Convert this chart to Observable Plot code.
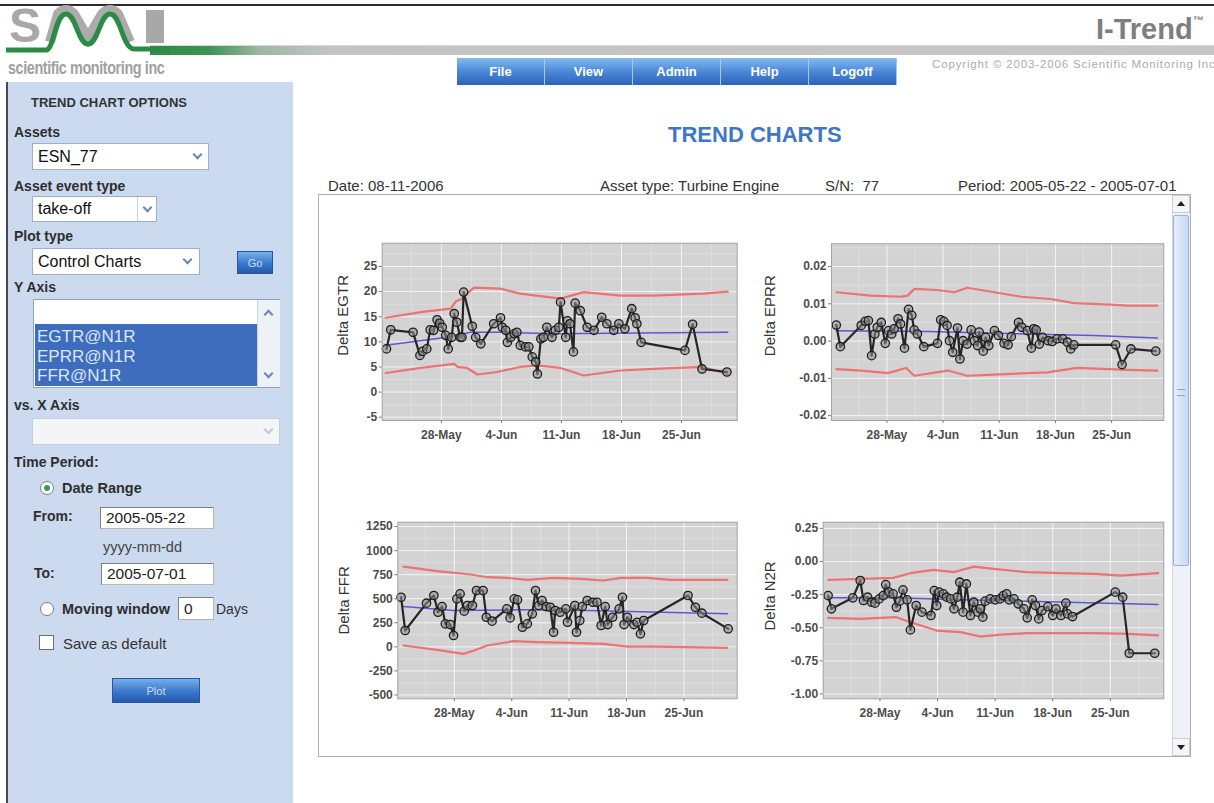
<!DOCTYPE html>
<html>
<head>
<meta charset="utf-8">
<script src="https://cdn.jsdelivr.net/npm/d3@7"></script>
<script src="https://cdn.jsdelivr.net/npm/@observablehq/plot@0.6"></script>
<style>
html,body{margin:0;padding:0}
body{width:1214px;height:803px;overflow:hidden;background:#fff;position:relative;font-family:"Liberation Sans",Arial,sans-serif;color:#333}
.a{position:absolute;white-space:nowrap;line-height:1}
.lbl{font-weight:bold;font-size:14px;color:#2e2e2e}
.box{position:absolute;background:#fff;border:1px solid #9cb0cc;box-sizing:border-box}
.box span{position:absolute;left:5px;top:50%;transform:translateY(-50%);font-size:16px;color:#111;white-space:nowrap}
.chev{position:absolute;width:5px;height:5px;border-right:2px solid #6a86b2;border-bottom:2px solid #6a86b2;transform:rotate(45deg)}
.chevu{position:absolute;width:5px;height:5px;border-left:2px solid #6a86b2;border-top:2px solid #6a86b2;transform:rotate(45deg)}
.inp{position:absolute;background:#fff;border:1px solid #b4b4b4;border-top-color:#808080;border-left-color:#808080;box-sizing:border-box;font-size:15.5px;color:#222;padding-left:5px;display:flex;align-items:center}
.btn{position:absolute;background:linear-gradient(#74aeea,#3b78cc 55%,#2659ad);color:#c9dcf6;font-size:11px;display:flex;align-items:center;justify-content:center;box-sizing:border-box;border:1px solid #2a56a0}
.menu{position:absolute;left:457px;top:58px;width:441px;height:27px;display:flex}
.menu div{width:88px;height:27px;display:flex;align-items:center;justify-content:center;color:#fff;font-weight:bold;font-size:13px;border-right:1px solid #a8c8ee;box-sizing:border-box;background:linear-gradient(#86bbf0,#4a88d8 50%,#2c64b8)}
.radio{position:absolute;width:14px;height:14px;border-radius:50%;border:1px solid #7a7a7a;background:#fff;box-sizing:border-box}
</style>
</head>
<body>
<script>
// ---------------- DATA ----------------
// days are counted as day-of-May (32 = 1 June, 61 = 30 June)
const xTickDays = [28, 35, 42, 49, 56];
const xDomainDays = [21.1, 62.5];

// Delta EGTR
const egtrDays = [21.6,22.1,24.7,25.5,25.8,26.3,26.7,27.1,27.5,27.8,28.1,28.5,28.8,29.2,29.5,29.8,30.2,30.4,30.6,31.6,32.0,32.6,34.1,34.9,35.1,35.5,35.7,36.1,36.5,36.8,37.2,37.8,38.2,38.6,39.0,39.2,39.6,39.9,40.3,40.9,41.3,41.7,41.9,42.5,42.7,43.0,43.4,43.6,44.2,45.0,45.8,46.7,47.3,48.1,48.7,49.4,50.2,50.6,50.8,51.3,56.4,57.3,58.4,61.3];
const egtrVals = [8.6,12.4,11.9,7.3,8.1,8.6,12.4,12.3,14.4,13.7,12.9,11.3,8.6,10.9,15.6,13.9,10.9,10.9,19.9,13.1,10.9,9.6,13.6,14.8,12.9,12.3,9.9,10.9,11.6,11.9,9.3,9.0,9.0,7.0,6.0,3.6,10.6,10.9,12.9,10.9,12.3,12.9,17.9,10.9,14.2,13.6,8.0,17.7,16.2,12.9,12.3,14.9,13.6,12.3,13.6,12.6,16.6,14.8,13.6,9.9,8.3,13.5,4.6,4.0];
const egtrUclDays = [21.5,25.6,29.1,29.7,30.4,31.0,31.8,34.9,37.2,41.9,44.6,48.9,52.7,58.5,61.4];
const egtrUcl = [14.8,15.9,16.6,18.1,18.6,19.6,20.8,20.6,19.6,18.6,19.9,19.2,19.2,19.6,20.0];
const egtrLclDays = [21.5,25.6,29.5,29.9,31.0,32.2,34.5,37.2,39.2,41.9,44.6,48.9,52.7,58.5,61.4];
const egtrLcl = [3.8,4.8,5.6,5.0,4.8,3.5,4.0,5.0,5.3,4.8,3.3,4.3,4.6,5.0,3.6];
const egtrClDays = [21.5,28.7,31.4,35.3,41.1,61.4];
const egtrCl = [9.3,10.9,11.9,11.9,11.6,11.9];
const egtrTicks = [-5,0,5,10,15,20,25];

// Delta EPRR
const eprrDays = [21.7,22.2,24.8,25.3,25.7,26.1,26.5,26.8,27.3,27.8,28.2,28.6,28.9,29.4,29.7,30.2,30.7,31.1,31.4,31.8,32.6,34.3,34.7,35.1,35.5,35.8,36.2,36.8,37.1,37.5,38.0,38.5,38.9,39.3,39.5,40.0,40.3,40.7,41.4,41.9,42.6,43.1,43.5,44.4,44.8,45.5,46.0,46.3,46.6,47.0,47.4,48.1,48.6,49.2,49.9,50.5,50.9,51.3,56.5,57.3,58.4,61.5];
const eprrVals = [0.0043,-0.0015,0.0042,0.0053,0.0055,-0.0039,0.0019,0.0037,0.0050,-0.0006,0.0028,0.0019,0.0033,0.0060,0.0046,-0.0019,0.0085,0.0069,0.0030,0.0019,-0.0015,-0.0006,0.0057,0.0053,0.0042,0.0001,-0.0030,0.0035,-0.0048,0.0001,-0.0008,0.0030,0.0001,-0.0012,0.0024,-0.0027,0.0010,-0.0012,0.0028,0.0015,-0.0006,-0.0010,0.0012,0.0050,0.0037,0.0028,-0.0019,0.0033,0.0030,-0.0008,0.0010,0.0001,-0.0001,0.0006,0.0006,-0.0003,-0.0021,-0.0010,-0.0010,-0.0063,-0.0021,-0.0027];
const eprrUclDays = [21.7,26.0,29.7,30.6,31.4,34.3,36.4,38.0,41.4,44.7,48.4,51.3,55.9,58.0,61.7];
const eprrUcl = [0.0131,0.0122,0.0119,0.0122,0.0140,0.0137,0.0131,0.0143,0.0131,0.0119,0.0113,0.0102,0.0098,0.0095,0.0095];
const eprrLclDays = [21.7,24.8,28.1,30.4,31.4,35.6,38.0,41.4,45.5,48.0,51.7,58.0,61.7];
const eprrLcl = [-0.0075,-0.0079,-0.0086,-0.0072,-0.0093,-0.0079,-0.0093,-0.0090,-0.0086,-0.0084,-0.0072,-0.0077,-0.0079];
const eprrClDays = [21.7,33.1,45.5,53.8,61.7];
const eprrCl = [0.0028,0.0026,0.0019,0.0015,0.0008];
const eprrTicks = [-0.02,-0.01,0,0.01,0.02];

// Delta FFR
const ffrDays = [21.5,22.0,24.6,25.5,26.0,26.5,26.9,27.5,27.9,28.3,28.7,29.2,29.6,30.2,30.7,31.5,31.9,32.6,34.4,34.8,35.3,35.7,36.3,36.9,37.5,37.9,38.3,38.7,39.2,39.7,40.1,40.3,40.9,41.6,41.8,42.7,42.9,43.3,43.6,44.2,44.9,45.4,45.9,46.4,46.7,47.3,48.1,48.5,48.7,49.1,49.9,50.3,50.7,51.1,56.5,57.4,58.2,61.4];
const ffrVals = [516,170,454,534,360,419,239,232,118,499,551,371,430,430,586,586,308,267,395,301,499,489,204,239,343,586,430,482,419,412,152,378,360,395,256,430,152,274,419,482,464,464,222,419,232,308,395,516,232,308,232,256,135,274,534,412,350,187];
const ffrUclDays = [21.8,25.9,30.0,32.0,34.4,36.9,40.1,43.4,46.2,48.3,51.5,54.4,61.3];
const ffrUcl = [835,787,752,724,717,696,717,707,690,717,717,696,696];
const ffrLclDays = [21.8,25.9,29.1,30.4,32.0,35.2,38.1,42.2,46.2,49.1,52.3,56.4,61.3];
const ffrLcl = [14,-31,-73,-38,14,59,49,42,31,3,3,-3,-10];
const ffrClDays = [21.8,27.9,36.1,44.2,61.3];
const ffrCl = [419,378,385,378,343];
const ffrTicks = [-500,-250,0,250,500,750,1000,1250];

// Delta N2R
const n2rDays = [21.7,22.1,24.7,25.6,26.0,26.5,27.0,27.4,27.9,28.4,28.7,29.1,29.6,30.0,30.4,30.8,31.3,31.7,32.4,33.1,34.2,34.6,34.9,35.2,35.7,36.1,36.6,37.0,37.4,37.7,38.1,38.5,39.0,39.4,39.9,40.2,40.5,40.8,41.4,42.0,42.6,43.0,43.4,43.7,44.3,44.8,45.5,45.9,46.5,46.9,47.3,47.7,48.4,49.0,49.4,50.0,50.6,50.8,51.4,56.6,57.5,58.3,61.4];
const n2rVals = [-0.257,-0.357,-0.274,-0.143,-0.294,-0.269,-0.307,-0.314,-0.282,-0.257,-0.174,-0.231,-0.244,-0.345,-0.299,-0.214,-0.289,-0.516,-0.332,-0.382,-0.407,-0.219,-0.332,-0.231,-0.244,-0.269,-0.282,-0.357,-0.269,-0.156,-0.382,-0.169,-0.407,-0.307,-0.382,-0.357,-0.420,-0.299,-0.282,-0.289,-0.282,-0.257,-0.244,-0.289,-0.282,-0.319,-0.357,-0.425,-0.289,-0.332,-0.433,-0.370,-0.340,-0.407,-0.357,-0.407,-0.314,-0.395,-0.415,-0.231,-0.269,-0.692,-0.692];
const n2rUclDays = [21.7,25.6,29.6,31.7,34.5,37.0,39.4,41.8,45.9,50.0,54.1,57.3,61.8];
const n2rUcl = [-0.138,-0.131,-0.123,-0.088,-0.063,-0.080,-0.038,-0.055,-0.080,-0.088,-0.093,-0.106,-0.088];
const n2rLclDays = [21.7,25.6,30.0,31.7,34.9,37.8,40.2,42.7,45.9,50.0,54.1,58.1,61.8];
const n2rLcl = [-0.425,-0.433,-0.420,-0.458,-0.521,-0.533,-0.566,-0.551,-0.541,-0.541,-0.541,-0.546,-0.558];
const n2rClDays = [21.7,29.6,37.8,45.9,61.8];
const n2rCl = [-0.274,-0.274,-0.289,-0.299,-0.324];
const n2rTicks = [-1,-0.75,-0.5,-0.25,0,0.25];

const listItems = ["EGTR@N1R", "EPRR@N1R", "FFR@N1R"];
const menuItems = ["File", "View", "Admin", "Help", "Logoff"];
</script>

<!-- header -->
<div class="a" style="left:0;top:4px;width:1214px;height:2px;background:#2b2b2b"></div>
<div class="a" style="left:150px;top:45px;width:1064px;height:10px;background:linear-gradient(to right,#2f8b46 0px,#3c9452 60px,#9fb7a4 110px,#c3c3c3 180px,#c6c6c6 100%);border-top:1px solid #d8d8d8;box-sizing:border-box"></div>
<svg class="a" style="left:0;top:0" width="170" height="60">
  <text x="9" y="42" font-size="48" font-weight="bold" fill="#a8a8a8" font-family="Liberation Sans, Arial">S</text>
  <path d="M50 42 L58 14 Q66 6 74 14 L88 38 L102 14 Q110 6 118 14 L130 42" stroke="#ababab" stroke-width="10" fill="none"/>
  <rect x="146" y="10" width="18" height="33" fill="#a8a8a8"/>
  <path d="M6 50 H46 C54 50 55 14 66 14 C76 14 78 44 88 44 C98 44 100 14 110 14 C121 14 122 48 134 49 H170" stroke="#2b8a43" stroke-width="5" fill="none"/>
</svg>
<div class="a" style="left:8px;top:59px;font-size:18px;font-weight:bold;color:#a0a0a0;transform:scaleX(0.8);transform-origin:left;letter-spacing:-0.5px">scientific monitoring inc</div>
<div class="a" style="left:1096px;top:15px;font-size:29px;font-weight:bold;color:#7e7e7e">I-Trend<span style="font-size:11px;vertical-align:top">™</span></div>
<div class="a" style="left:932px;top:59px;font-size:11.5px;color:#ababab;letter-spacing:0.85px">Copyright © 2003-2006 Scientific Monitoring Inc</div>
<div class="menu" id="menu"></div>

<!-- left panel -->
<div class="a" style="left:6px;top:82px;width:287px;height:721px;background:#cbdaef;border-left:2px solid #4a4a4a;box-sizing:border-box"></div>
<div class="a" style="left:31px;top:96px;font-size:13px;font-weight:bold;color:#333">TREND CHART OPTIONS</div>
<div class="a lbl" style="left:14px;top:125px">Assets</div>
<div class="box" style="left:32px;top:143px;width:177px;height:27px"><span>ESN_77</span><div class="chev" style="left:161px;top:7px"></div></div>
<div class="a lbl" style="left:14px;top:179px">Asset event type</div>
<div class="box" style="left:32px;top:196px;width:125px;height:26px"><span>take-off</span><div style="position:absolute;left:104px;top:0;width:1px;height:24px;background:#c8d4e6"></div><div class="chev" style="left:111px;top:7px"></div></div>
<div class="a lbl" style="left:14px;top:229px">Plot type</div>
<div class="box" style="left:32px;top:248px;width:168px;height:27px"><span>Control Charts</span><div class="chev" style="left:151px;top:7px"></div></div>
<div class="btn" style="left:237px;top:251px;width:36px;height:23px">Go</div>
<div class="a lbl" style="left:14px;top:280px">Y Axis</div>
<div class="box" style="left:33px;top:299px;width:247px;height:89px;border-color:#8ea3c3" id="lb">
  <div style="position:absolute;left:1px;top:24px;width:222px;height:62px;background:#3f6dbe"></div>
  <div style="position:absolute;left:223px;top:0;width:22px;height:87px;background:#eef2f8;border-left:1px solid #c9d3e2"></div>
  <div class="chevu" style="left:231px;top:11px"></div>
  <div class="chev" style="left:231px;top:70px"></div>
</div>
<div class="a lbl" style="left:14px;top:398px">vs. X Axis</div>
<div class="box" style="left:32px;top:418px;width:248px;height:27px;background:#f4f5f7;border-color:#c6cfdc"><div class="chev" style="left:232px;top:7px;border-color:#c3c9d3"></div></div>
<div class="a lbl" style="left:14px;top:455px">Time Period:</div>
<div class="radio" style="left:40px;top:481px"><div style="position:absolute;left:3px;top:3px;width:6px;height:6px;border-radius:50%;background:#3f9a56"></div></div>
<div class="a lbl" style="left:62px;top:481px;font-size:14.5px">Date Range</div>
<div class="a lbl" style="left:33px;top:509px">From:</div>
<div class="inp" style="left:100px;top:507px;width:114px;height:22px">2005-05-22</div>
<div class="a" style="left:103px;top:540px;font-size:14.5px;color:#444">yyyy-mm-dd</div>
<div class="a lbl" style="left:34px;top:566px">To:</div>
<div class="inp" style="left:101px;top:563px;width:113px;height:22px">2005-07-01</div>
<div class="radio" style="left:40px;top:602px"></div>
<div class="a lbl" style="left:62px;top:602px;font-size:14.5px">Moving window</div>
<div class="inp" style="left:178px;top:597px;width:36px;height:23px">0</div>
<div class="a" style="left:216px;top:602px;font-size:14px;color:#333">Days</div>
<div class="a" style="left:39px;top:635px;width:15px;height:15px;border:1px solid #6e6e6e;background:#fff;box-sizing:border-box"></div>
<div class="a" style="left:63px;top:636px;font-size:15px;color:#333">Save as default</div>
<div class="btn" style="left:112px;top:678px;width:88px;height:25px">Plot</div>

<!-- main area -->
<div class="a" style="left:668px;top:124px;font-size:22px;font-weight:bold;color:#3f77c6">TREND CHARTS</div>
<div class="a" style="left:328px;top:178px;font-size:15px;color:#333">Date: 08-11-2006</div>
<div class="a" style="left:600px;top:178px;font-size:15px;color:#333">Asset type: Turbine Engine</div>
<div class="a" style="left:825px;top:178px;font-size:15px;color:#333;white-space:pre">S/N:  77</div>
<div class="a" style="left:958px;top:178px;font-size:15px;color:#333">Period: 2005-05-22 - 2005-07-01</div>
<div class="a" style="left:318px;top:194px;width:873px;height:563px;border:1px solid #aeaeae;box-sizing:border-box"></div>
<div id="charts"></div>
<div class="a" style="left:1172px;top:195px;width:18px;height:561px;background:#eef2f8;border-left:1px solid #d0d6e0;box-sizing:border-box"></div>
<div class="a" style="left:1172px;top:195px;width:18px;height:18px;background:#f5f6f8;border:1px solid #c8ccd4;box-sizing:border-box"></div>
<div class="a" style="left:1177px;top:201px;width:0;height:0;border-left:4px solid transparent;border-right:4px solid transparent;border-bottom:5px solid #222"></div>
<div class="a" style="left:1173px;top:215px;width:16px;height:351px;background:linear-gradient(to right,#e6eefa,#c9daf3);border:1px solid #98b2da;border-radius:2px;box-sizing:border-box"></div>
<div class="a" style="left:1177px;top:389px;width:8px;height:7px;border-top:1px solid #8aa3c8;border-bottom:1px solid #8aa3c8;box-sizing:border-box"></div>
<div class="a" style="left:1172px;top:738px;width:18px;height:18px;background:#f5f6f8;border:1px solid #c8ccd4;box-sizing:border-box"></div>
<div class="a" style="left:1177px;top:745px;width:0;height:0;border-left:4px solid transparent;border-right:4px solid transparent;border-top:5px solid #222"></div>

<script>
// menu
const menu = document.getElementById("menu");
menuItems.forEach(t => { const d = document.createElement("div"); d.textContent = t; menu.appendChild(d); });
// list box items
const lb = document.getElementById("lb");
listItems.forEach((t, i) => {
  const d = document.createElement("div");
  d.textContent = t;
  d.style.cssText = `position:absolute;left:3px;top:${28 + i * 19.5}px;font-size:17px;line-height:1;color:#dce7fb;white-space:nowrap`;
  lb.appendChild(d);
});

function toDate(d) { return new Date(Date.UTC(2005, 4, 1) + (d - 1) * 864e5); }
function rows(ds, vs) { return ds.map((d, i) => ({date: toDate(d), value: vs[i]})); }
const fmt2 = v => d3.format(".2f")(v).replace("\u2212", "-");
const fmt0 = v => String(v);

function drawChart(c) {
  const [bl, bt, bw, bh] = c.box;
  const [fx0, fx1, fy0, fy1] = c.frame;
  const xt = xTickDays.map(toDate);
  const xMinor = [xTickDays[0] - 3.5, ...xTickDays.map(d => d + 3.5)]
    .filter(d => d > xDomainDays[0] && d < xDomainDays[1]).map(toDate);
  const step = c.yTicks[1] - c.yTicks[0];
  const yMinor = [c.yTicks[0] - step / 2, ...c.yTicks.map(v => v + step / 2)]
    .filter(v => v > c.yDomain[0] && v < c.yDomain[1]);
  const pts = rows(c.days, c.vals);
  const tickStyle = {fontSize: 12, fontWeight: "bold", fill: "#4d4d4d"};
  const svg = Plot.plot({
    width: bw, height: bh,
    marginLeft: fx0 - bl, marginRight: bl + bw - fx1, marginTop: fy0 - bt, marginBottom: bt + bh - fy1,
    x: {type: "utc", domain: xDomainDays.map(toDate), label: null},
    y: {domain: c.yDomain, label: null},
    style: {fontFamily: '"Liberation Sans", Arial, sans-serif', background: "transparent", overflow: "visible", maxWidth: "none"},
    marks: [
      Plot.frame({fill: "#d3d3d3"}),
      Plot.ruleX(xMinor, {stroke: "#fff", strokeOpacity: 0.35, strokeWidth: 0.7}),
      Plot.ruleY(yMinor, {stroke: "#fff", strokeOpacity: 0.35, strokeWidth: 0.7}),
      Plot.ruleX(xt, {stroke: "#fff", strokeOpacity: 0.75, strokeWidth: 1}),
      Plot.ruleY(c.yTicks, {stroke: "#fff", strokeOpacity: 0.75, strokeWidth: 1}),
      Plot.line(rows(c.uclDays, c.ucl), {x: "date", y: "value", stroke: "#f06262", strokeWidth: 2.2, strokeOpacity: 0.85}),
      Plot.line(rows(c.lclDays, c.lcl), {x: "date", y: "value", stroke: "#f06262", strokeWidth: 2.2, strokeOpacity: 0.85}),
      Plot.line(rows(c.clDays, c.cl), {x: "date", y: "value", stroke: "#5a5ad0", strokeWidth: 1.5}),
      Plot.line(pts, {x: "date", y: "value", stroke: "#262626", strokeWidth: 2.2}),
      Plot.dot(pts, {x: "date", y: "value", r: 4.2, fill: "#8c8c8c", fillOpacity: 0.55, stroke: "#1e1e1e", strokeWidth: 1.3}),
      Plot.frame({stroke: "#a3a3a3"}),
      Plot.axisX(xt, {tickFormat: d3.utcFormat("%-d-%b"), tickSize: 3, tickPadding: 7, ...tickStyle, stroke: "#7a7a7a", label: null}),
      Plot.axisY(c.yTicks, {tickSize: 3, fill: "none", stroke: "#7a7a7a", label: null}),
      Plot.text(c.yTicks, {y: d => d, text: c.fmt, frameAnchor: "left", textAnchor: "end", dx: -5, ...tickStyle}),
      Plot.text([c.label], {text: d => d, frameAnchor: "left", rotate: -90, dx: c.ldx, dy: c.ldy, fontSize: 15, fill: "#333"})
    ]
  });
  svg.style.position = "absolute";
  svg.style.left = bl + "px";
  svg.style.top = bt + "px";
  document.getElementById("charts").appendChild(svg);
}

drawChart({box: [322, 236, 430, 225], frame: [381.7, 736.7, 242.7, 420], yDomain: [-5.66, 29.64], yTicks: egtrTicks, fmt: fmt0,
  label: "Delta EGTR", ldx: -39, ldy: 24,
  days: egtrDays, vals: egtrVals, uclDays: egtrUclDays, ucl: egtrUcl, lclDays: egtrLclDays, lcl: egtrLcl, clDays: egtrClDays, cl: egtrCl});
drawChart({box: [760, 236, 412, 225], frame: [831, 1163.3, 243.3, 420], yDomain: [-0.0213, 0.0261], yTicks: eprrTicks, fmt: fmt2,
  label: "Delta EPRR", ldx: -61, ldy: 24,
  days: eprrDays, vals: eprrVals, uclDays: eprrUclDays, ucl: eprrUcl, lclDays: eprrLclDays, lcl: eprrLcl, clDays: eprrClDays, cl: eprrCl});
drawChart({box: [322, 512, 430, 230], frame: [397.3, 736.7, 521.7, 698.3], yDomain: [-540, 1296], yTicks: ffrTicks, fmt: fmt0,
  label: "Delta FFR", ldx: -54, ldy: 24,
  days: ffrDays, vals: ffrVals, uclDays: ffrUclDays, ucl: ffrUcl, lclDays: ffrLclDays, lcl: ffrLcl, clDays: ffrClDays, cl: ffrCl});
drawChart({box: [760, 512, 412, 230], frame: [822.7, 1163.3, 521.7, 698.3], yDomain: [-1.036, 0.297], yTicks: n2rTicks, fmt: fmt2,
  label: "Delta N2R", ldx: -53, ldy: 20,
  days: n2rDays, vals: n2rVals, uclDays: n2rUclDays, ucl: n2rUcl, lclDays: n2rLclDays, lcl: n2rLcl, clDays: n2rClDays, cl: n2rCl});
</script>
</body>
</html>
